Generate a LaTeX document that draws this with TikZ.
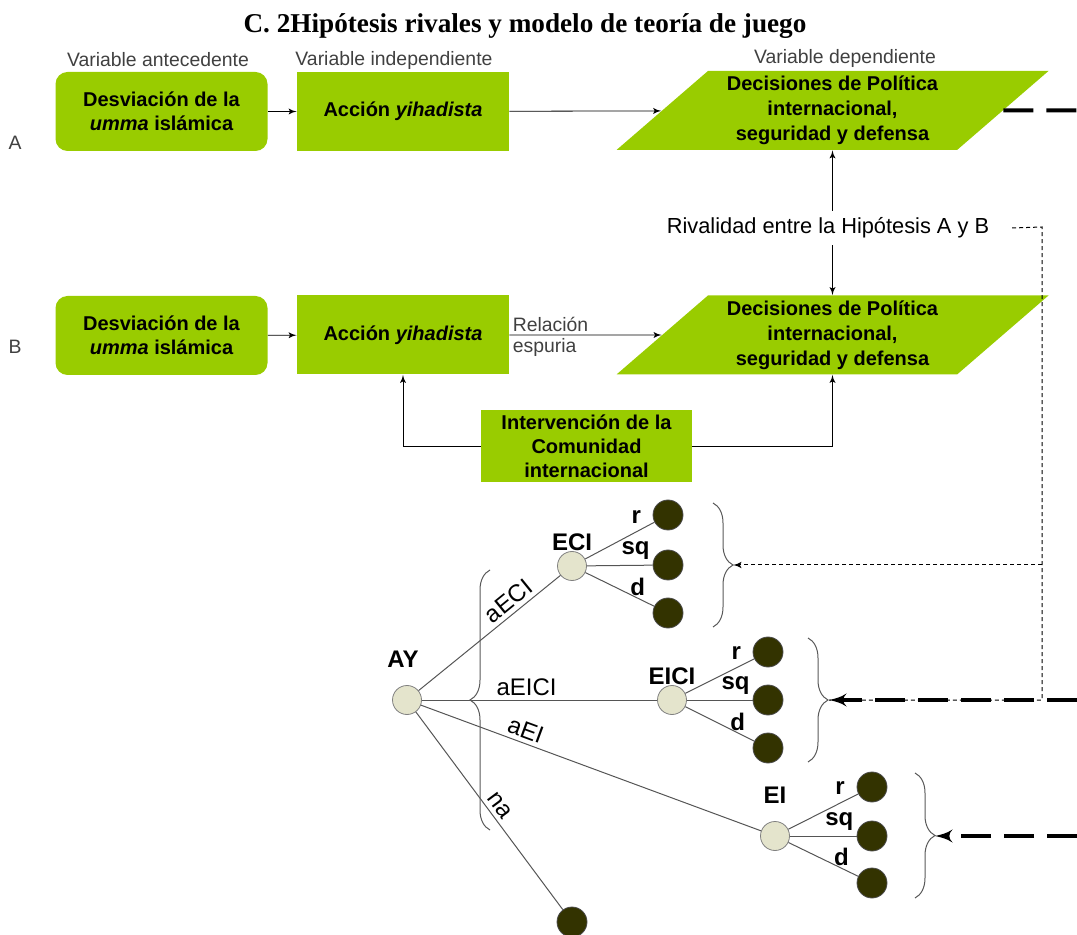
\documentclass[tikz,border=0pt]{standalone}
\usepackage{fontspec}
\setmainfont{Liberation Sans}
\newfontfamily\titlefont{Liberation Serif}
\usepackage{tikz}
\usetikzlibrary{shapes,arrows,positioning,calc,decorations.pathreplacing}
\definecolor{boxgreen}{RGB}{153,204,0}
\definecolor{nodecream}{RGB}{228,228,204}
\definecolor{leafolive}{RGB}{51,51,0}
\definecolor{branchgray}{RGB}{85,85,85}
\tikzset{
  varbox/.style={fill=boxgreen,align=center,font=\bfseries\fontsize{10}{12}\selectfont,minimum width=106pt,minimum height=39.5pt,inner sep=2pt},
  decbox/.style={trapezium,trapezium left angle=37,trapezium right angle=143,trapezium stretches body,fill=boxgreen,align=center,font=\bfseries\fontsize{10}{12.5}\selectfont,minimum width=216pt,minimum height=39.5pt,inner sep=0pt},
  varlabel/.style={font=\fontsize{9.7}{11}\selectfont,text=black!75},
  player/.style={circle,draw=gray,fill=nodecream,minimum size=14.5pt,inner sep=0pt},
  leaf/.style={circle,draw=gray!60!black,fill=leafolive,minimum size=15pt,inner sep=0pt},
  branch/.style={draw=branchgray,line width=.5pt},
  tlabel/.style={font=\bfseries\fontsize{12}{14}\selectfont,inner sep=0pt},
  elabel/.style={font=\fontsize{12}{14}\selectfont,sloped,above,inner sep=2pt},
  olabel/.style={font=\bfseries\fontsize{12}{14}\selectfont,inner sep=1pt},
  payoffbrace/.style={decorate,decoration={brace,amplitude=10pt},draw=gray!70!black,line width=.5pt},
  rivalry/.style={line width=.5pt,dash pattern=on 2pt off 1.5pt},
  future/.style={line width=2pt,dash pattern=on 15pt off 6.5pt}
}
\begin{document}
\begin{tikzpicture}[x=0.5pt,y=-0.5pt,>=latex']
\useasboundingbox (0,0) rectangle (1077,935);
\node[font=\titlefont\bfseries\fontsize{13.6}{16}\selectfont] (title) at (525,26) {C. 2Hipótesis rivales y modelo de teoría de juego};
\node[varlabel] (antlabel) at (158,60) {Variable antecedente};
\node[varlabel] (indlabel) at (394,60) {Variable independiente};
\node[varlabel] (deplabel) at (845,58) {Variable dependiente};
\node[varlabel] (hypA) at (15,143) {A};
\node[varlabel] (hypB) at (15,347) {B};
% hipotesis A
\node[varbox,rounded corners=6pt] (devA) at (161.5,111.5) {Desviación de la\\\textit{umma} islámica};
\node[varbox] (accA) at (403,111.5) {Acción \textit{yihadista}};
\node[decbox] (depA) at (832.5,110.5) {Decisiones de Política\\internacional,\\seguridad y defensa};
\draw[->](devA)--(accA); \draw[->](accA)--(depA);
% hipotesis B
\node[varbox,rounded corners=6pt] (devB) at (161.5,335.5) {Desviación de la\\\textit{umma} islámica};
\node[varbox] (accB) at (403,335) {Acción \textit{yihadista}};
\node[decbox] (depB) at (832.5,335) {Decisiones de Política\\internacional,\\seguridad y defensa};
\node[varbox,minimum height=36pt,minimum width=105.5pt] (intB) at (586.5,446) {Intervención de la\\Comunidad\\internacional};
\draw[->](devB)--(accB);
\draw[->](accB)--(depB) node[pos=0,anchor=south west,varlabel,inner sep=1.5pt]{Relación} node[pos=0,anchor=north west,varlabel,inner sep=1.5pt]{espuria};
\draw[->](intB.west)-|(accB.south); \draw[->](intB.east)-|(depB.south);
% rivalidad
\node[font=\fontsize{10.9}{13}\selectfont] (riv) at (828,228) {Rivalidad entre la Hipótesis A y B};
\draw[->](riv.north -| depA.south)--(depA.south); \draw[->](riv.south -| depB.north)--(depB.north);
% juego
\node[player,label={[tlabel,label distance=8.4pt,xshift=-2pt]above:AY}] (ay) at (407,700) {};
\node[player,label={[tlabel]above:ECI}] (eci) at (572,566) {};
\node[player,label={[tlabel]above:EICI}] (eicl) at (672,700) {};
\node[player,label={[tlabel,label distance=8.7pt]above:EI}] (ei) at (775,836) {};
\node[leaf] (na) at (572,922) {};
\draw[branch](ay)--(eci) node[elabel,pos=.69]{aECI};
\draw[branch](ay)--(eicl) node[elabel,pos=.445]{aEICI};
\draw[branch](ay)--(ei) node[elabel,pos=.295]{aEI};
\draw[branch](ay)--(na) node[elabel,pos=.507]{na};
\node[leaf] (eci-r) at (668,515) {}; \node[leaf] (eci-sq) at (668,565) {}; \node[leaf] (eci-d) at (668,613) {};
\draw[branch](eci)--(eci-r) node[olabel,pos=.74,above=3pt]{r};
\draw[branch](eci)--(eci-sq) node[olabel,pos=.74,above=1.6pt]{sq};
\draw[branch](eci)--(eci-d) node[olabel,pos=.76,above=0pt]{d};
\node[leaf] (eicl-r) at (768,652) {}; \node[leaf] (eicl-sq) at (768,700) {}; \node[leaf] (eicl-d) at (768,748) {};
\draw[branch](eicl)--(eicl-r) node[olabel,pos=.74,above=3pt]{r};
\draw[branch](eicl)--(eicl-sq) node[olabel,pos=.74,above=1.6pt]{sq};
\draw[branch](eicl)--(eicl-d) node[olabel,pos=.76,above=0pt]{d};
\node[leaf] (ei-r) at (872,787) {}; \node[leaf] (ei-sq) at (872,836) {}; \node[leaf] (ei-d) at (872,883) {};
\draw[branch](ei)--(ei-r) node[olabel,pos=.74,above=3pt]{r};
\draw[branch](ei)--(ei-sq) node[olabel,pos=.74,above=1.6pt]{sq};
\draw[branch](ei)--(ei-d) node[olabel,pos=.76,above=0pt]{d};
% llaves
\draw[payoffbrace](490,830)--(490,570);
\draw[payoffbrace](713,503)--(713,627); \coordinate (eciset) at (733,565);
\draw[payoffbrace](808,638)--(808,762); \coordinate (eiclset) at (829,700);
\draw[payoffbrace](915,773)--(915,898); \coordinate (eiset) at (935,836);
% conexiones discontinuas
\coordinate (rivcorner) at (1042,227); \coordinate (rivturn) at (1042,700);
\coordinate (outA) at (1077,110.5); \coordinate (outB) at (1077,700); \coordinate (outC) at (1077,836);
\draw[rivalry]([xshift=8pt]riv.east)--(rivcorner)--(rivturn)--(eiclset);
\draw[rivalry,->](rivcorner |- eciset)--(eciset);
\draw[future](depA.east)--(outA);
\draw[future,->](outB)--(eiclset); \draw[future,->](outC)--(eiset);
\end{tikzpicture}
\end{document}
